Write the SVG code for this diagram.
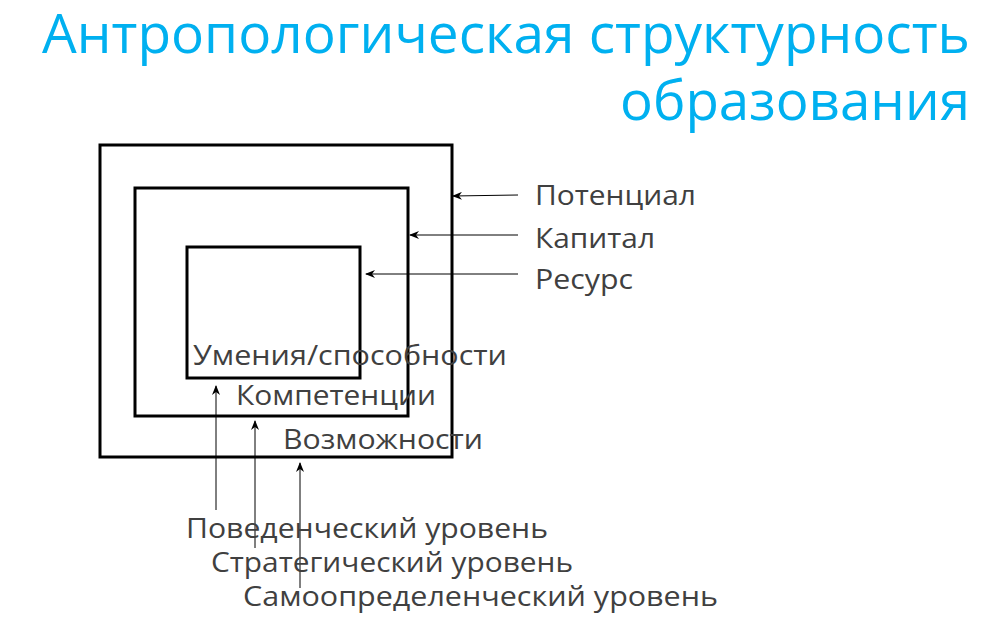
<svg xmlns="http://www.w3.org/2000/svg" width="989" height="617" viewBox="0 0 989 617">
<defs>
<marker id="ah" markerWidth="10" markerHeight="8" refX="9" refY="4" orient="auto" markerUnits="userSpaceOnUse">
<path d="M0,0 L10,4 L0,8 L3,4 Z" fill="#000"/>
</marker>
<style>
.title{font-family:"Open Sans","Liberation Sans",sans-serif;font-size:54px;fill:#00B0F0;}
.lbl{font-family:"Open Sans","Liberation Sans",sans-serif;font-size:27px;fill:#404040;}
.box{fill:none;stroke:#000;stroke-width:3;}
.con{fill:none;stroke:#000;stroke-width:1;marker-end:url(#ah);}
</style>
</defs>
<rect width="989" height="617" fill="#fff"/>
<g id="title">
<text class="title" x="970" y="53" text-anchor="end" textLength="928" lengthAdjust="spacingAndGlyphs">Антропологическая структурность</text>
<text class="title" x="970" y="120" text-anchor="end" textLength="350" lengthAdjust="spacingAndGlyphs">образования</text>
</g>
<g id="outer"><rect class="box" x="100" y="145" width="352" height="312"/></g>
<g id="middle"><rect class="box" x="135" y="188" width="273" height="228"/></g>
<g id="inner"><rect class="box" x="187" y="247" width="173" height="131"/></g>
<g id="connectors">
<line class="con" x1="518" y1="195" x2="453" y2="196"/>
<line class="con" x1="518" y1="235" x2="410" y2="235"/>
<line class="con" x1="518" y1="274" x2="366" y2="274"/>
<line class="con" x1="216" y1="510" x2="216" y2="386"/>
<line class="con" x1="255" y1="548" x2="255" y2="421"/>
<line class="con" x1="300" y1="588" x2="300" y2="463"/>
</g>
<g id="labels">
<text class="lbl" x="535" y="205" textLength="161" lengthAdjust="spacingAndGlyphs">Потенциал</text>
<text class="lbl" x="535" y="248" textLength="120" lengthAdjust="spacingAndGlyphs">Капитал</text>
<text class="lbl" x="535" y="289" textLength="98" lengthAdjust="spacingAndGlyphs">Ресурс</text>
<text class="lbl" x="193" y="365" textLength="314" lengthAdjust="spacingAndGlyphs">Умения/способности</text>
<text class="lbl" x="236" y="405" textLength="200" lengthAdjust="spacingAndGlyphs">Компетенции</text>
<text class="lbl" x="283" y="449" textLength="200" lengthAdjust="spacingAndGlyphs">Возможности</text>
<text class="lbl" x="186" y="538" textLength="362" lengthAdjust="spacingAndGlyphs">Поведенческий уровень</text>
<text class="lbl" x="211" y="572" textLength="362" lengthAdjust="spacingAndGlyphs">Стратегический уровень</text>
<text class="lbl" x="243" y="606" textLength="475" lengthAdjust="spacingAndGlyphs">Самоопределенческий уровень</text>
</g>
</svg>
